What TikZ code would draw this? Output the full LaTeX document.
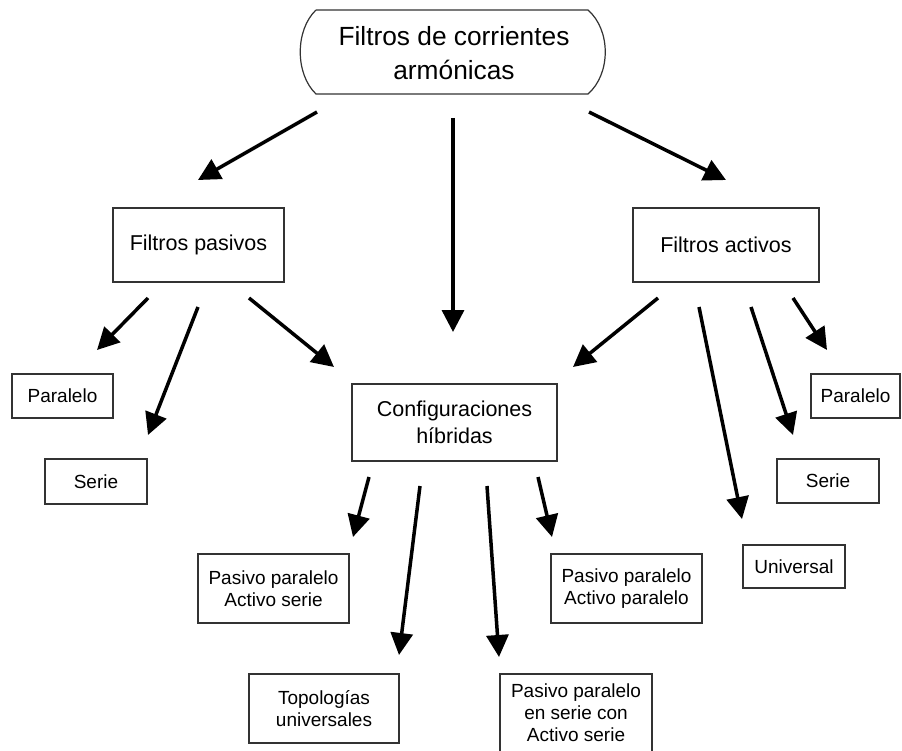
\documentclass[tikz,border=0pt]{standalone}
\usepackage{fontspec}
\setmainfont{Liberation Sans}
\usetikzlibrary{arrows.meta}
\begin{document}
\begin{tikzpicture}[x=1pt,y=-1pt,
  box/.style={draw=black!80,line width=1.2pt,inner sep=0pt,align=center,font=\fontsize{19}{22}\selectfont},
  bigbox/.style={box,font=\fontsize{21.5}{27}\selectfont},
  arr/.style={line width=3.5pt,-{Triangle[length=22pt,width=22pt]}}]
\useasboundingbox (0,0) rectangle (902,751);
% top node
\node[inner sep=0pt,align=center,font=\fontsize{26.3}{34}\selectfont] (top) at (454,53) {Filtros de corrientes\\armónicas};
\draw[black!80,line width=1.2pt] (316,10) -- (588,10) .. controls (611,30) and (611,74) .. (588,94) -- (316,94) .. controls (295,74) and (295,30) .. (316,10);
% second level
\node[bigbox,minimum width=171pt,minimum height=74pt] (pas) at (198.5,245) {Filtros pasivos};
\node[bigbox,minimum width=186pt,minimum height=74pt] (act) at (726,245) {Filtros activos};
\node[bigbox,minimum width=205pt,minimum height=77pt] (conf) at (454.5,422.5) {Configuraciones\\híbridas};
% leaves
\node[box,minimum width=101pt,minimum height=44pt] (parL) at (62.5,396) {Paralelo};
\node[box,minimum width=102pt,minimum height=45pt] (serL) at (96,481.5) {Serie};
\node[box,minimum width=89pt,minimum height=44pt] (parR) at (855.5,396) {Paralelo};
\node[box,minimum width=102pt,minimum height=44pt] (serR) at (828,481) {Serie};
\node[box,minimum width=102pt,minimum height=43pt] (univ) at (794,566.5) {Universal};
\node[box,minimum width=151pt,minimum height=69pt] (pasas) at (273.5,588.5) {Pasivo paralelo\\Activo serie};
\node[box,minimum width=151pt,minimum height=69pt] (pasap) at (626.5,588.5) {Pasivo paralelo\\Activo paralelo};
\node[box,minimum width=150pt,minimum height=69pt] (topo) at (324,708.5) {Topologías\\universales};
\node[box,minimum width=152pt,minimum height=78pt] (pes) at (576,713) {Pasivo paralelo\\en serie con\\Activo serie};
% arrow end points
\coordinate (a1s) at (317,112); \coordinate (a1e) at (198,180);
\coordinate (a2s) at (453,118); \coordinate (a2e) at (453,332);
\coordinate (a3s) at (589,112); \coordinate (a3e) at (726,180);
\coordinate (a4s) at (148,298); \coordinate (a4e) at (97,350);
\coordinate (a5s) at (198,307); \coordinate (a5e) at (148,435);
\coordinate (a6s) at (249,298); \coordinate (a6e) at (334,367);
\coordinate (a7s) at (658,298); \coordinate (a7e) at (573,367);
\coordinate (a8s) at (699,307); \coordinate (a8e) at (742,519);
\coordinate (a9s) at (751,307); \coordinate (a9e) at (793,435);
\coordinate (a10s) at (793,298); \coordinate (a10e) at (827,350);
\coordinate (a11s) at (369,477); \coordinate (a11e) at (353,537);
\coordinate (a12s) at (420,486); \coordinate (a12e) at (399,655);
\coordinate (a13s) at (487,486); \coordinate (a13e) at (499,657);
\coordinate (a14s) at (538,477); \coordinate (a14e) at (552,537);
\foreach \i in {1,...,14} {\draw[arr] (a\i s) -- (a\i e);}
\end{tikzpicture}
\end{document}
